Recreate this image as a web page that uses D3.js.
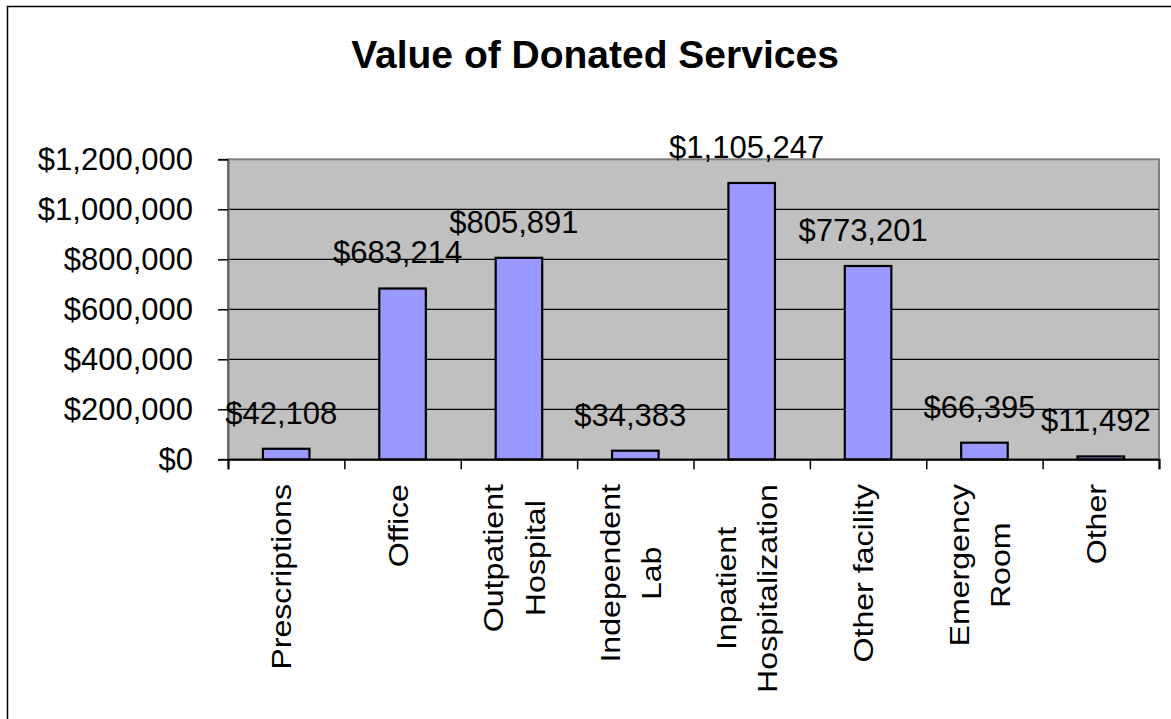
<!DOCTYPE html>
<html>
<head>
<meta charset="utf-8">
<script src="https://cdn.jsdelivr.net/npm/d3@7/dist/d3.min.js"></script>
<style>
  html, body { margin: 0; padding: 0; background: #fff; }
  svg { display: block; }
  text { font-family: Arial, "Liberation Sans", sans-serif; fill: #000; }
</style>
</head>
<body>
<svg id="chart" width="1171" height="719"></svg>
<script>
// Donated services by place of service
const categories = [
  "Prescriptions",
  "Office",
  "Outpatient\nHospital",
  "Independent\nLab",
  "Inpatient\nHospitalization",
  "Other facility",
  "Emergency\nRoom",
  "Other"
];
const values = [42108, 683214, 805891, 34383, 1105247, 773201, 66395, 11492];
const yTicks = [0, 200000, 400000, 600000, 800000, 1000000, 1200000];
const titleText = "Value of Donated Services";

const svg = d3.select("#chart");
const W = 1171, H = 719;
const plot = { left: 228, right: 1159, top: 159.3, bottom: 459.3 };

const money = v => "$" + d3.format(",")(v);

// outer chart frame (continues past the right and bottom edges)
svg.append("rect")
  .attr("x", 7.5).attr("y", 6.5)
  .attr("width", 1175).attr("height", 760)
  .attr("fill", "#fff")
  .attr("stroke", "#000")
  .attr("stroke-width", 1.5);

// title
svg.append("text")
  .attr("x", 595).attr("y", 68)
  .attr("text-anchor", "middle")
  .attr("font-size", 39)
  .attr("font-weight", "bold")
  .text(titleText);

const x = d3.scaleBand()
  .domain(categories)
  .range([plot.left, plot.right])
  .paddingInner(0.6)
  .paddingOuter(0.3);

const y = d3.scaleLinear()
  .domain([0, d3.max(yTicks)])
  .range([plot.bottom, plot.top]);

// boundaries between categories, for the x-axis ticks
const xEdges = d3.scaleLinear()
  .domain([0, categories.length])
  .range([plot.left, plot.right]);

// plot background
svg.append("rect")
  .attr("x", plot.left).attr("y", plot.top)
  .attr("width", plot.right - plot.left)
  .attr("height", plot.bottom - plot.top)
  .attr("fill", "#c0c0c0")
  .attr("stroke", "#808080")
  .attr("stroke-width", 2);

// horizontal gridlines
svg.append("g")
  .selectAll("line")
  .data(yTicks.filter(t => t > 0 && t < d3.max(yTicks)))
  .join("line")
  .attr("x1", plot.left).attr("x2", plot.right)
  .attr("y1", d => y(d)).attr("y2", d => y(d))
  .attr("stroke", "#000")
  .attr("stroke-width", 1.2);

// y axis
const yAxis = svg.append("g")
  .attr("transform", `translate(${plot.left},0)`)
  .call(d3.axisLeft(y).tickValues(yTicks).tickSize(10).tickPadding(25).tickFormat(money));
yAxis.select(".domain").attr("stroke", "#606060").attr("stroke-width", 2);
yAxis.selectAll(".tick line").attr("stroke", "#000").attr("stroke-width", 1.5);
yAxis.selectAll(".tick text")
  .attr("font-size", 31)
  .attr("font-family", 'Arial, "Liberation Sans", sans-serif')
  .attr("fill", "#000");

// x axis with ticks on category boundaries
const xAxis = svg.append("g")
  .attr("transform", `translate(0,${plot.bottom})`)
  .call(d3.axisBottom(xEdges).tickValues(d3.range(categories.length + 1)).tickSize(10).tickFormat(""));
xAxis.select(".domain").attr("stroke", "#000").attr("stroke-width", 2);
xAxis.selectAll(".tick line").attr("stroke", "#000").attr("stroke-width", 1.5);

// bars
svg.append("g")
  .selectAll("rect")
  .data(values)
  .join("rect")
  .attr("x", (d, i) => x(categories[i]))
  .attr("width", x.bandwidth())
  .attr("y", d => y(d))
  .attr("height", d => y(0) - y(d))
  .attr("fill", "#9999ff")
  .attr("stroke", "#000")
  .attr("stroke-width", 2.2);

// value labels above bars
svg.append("g")
  .selectAll("text")
  .data(values)
  .join("text")
  .attr("x", (d, i) => x(categories[i]) + x.bandwidth() / 2 - 5)
  .attr("y", d => y(d) - 25)
  .attr("text-anchor", "middle")
  .attr("font-size", 31)
  .text(d => money(d));

// rotated category labels; multi-line labels are centred within their block
const labelTop = 484;
const stretch = 1.19;
const lineGap = 41.5;
categories.forEach(cat => {
  const lines = cat.split("\n");
  const cx = x(cat) + x.bandwidth() / 2;
  const g = svg.append("g");
  const texts = lines.map((ln, i) => g.append("text")
    .attr("font-size", 27)
    .attr("text-anchor", "middle")
    .text(ln));
  const maxLen = d3.max(texts, t => t.node().getComputedTextLength()) * stretch;
  texts.forEach((t, i) => {
    const bx = cx + 5 + (i - (lines.length - 1) / 2) * lineGap;
    t.attr("transform", `translate(${bx},${labelTop + maxLen / 2}) rotate(-90) scale(${stretch},1)`);
  });
});
</script>
</body>
</html>
